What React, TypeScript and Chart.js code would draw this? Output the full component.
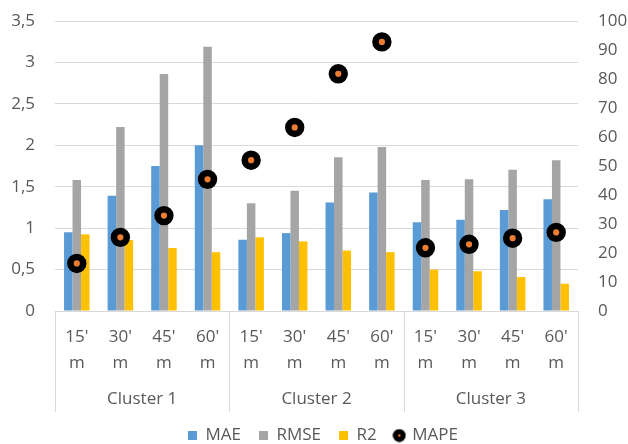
import React, { useEffect, useRef } from "react";
import { Chart, registerables } from "chart.js";

Chart.register(...registerables);

const horizons = ["15'", "30'", "45'", "60'"];
const clusters = ["Cluster 1", "Cluster 2", "Cluster 3"];
const maeValues = [0.95, 1.39, 1.75, 2.0, 0.86, 0.94, 1.31, 1.43, 1.07, 1.1, 1.22, 1.35];
const rmseValues = [1.58, 2.22, 2.86, 3.19, 1.3, 1.45, 1.855, 1.98, 1.58, 1.59, 1.705, 1.82];
const r2Values = [0.925, 0.857, 0.76, 0.71, 0.89, 0.84, 0.73, 0.71, 0.5, 0.48, 0.41, 0.33];
const mapeValues = [16.4, 25.4, 32.9, 45.4, 52.0, 63.3, 81.8, 92.8, 21.8, 23.0, 25.1, 27.1];
const leftTickLabels = ["0", "0,5", "1", "1,5", "2", "2,5", "3", "3,5"];

const FONT = "'Open Sans', sans-serif";
const TEXT = "#595959";
const GRID = "#D9D9D9";
const CLEAR = "rgba(0,0,0,0)";

const clusterPlugin = {
  id: "clusterAxis",
  afterDraw(chart: any) {
    const xs = chart.scales.x;
    const ctx = chart.ctx;
    const step = xs.getPixelForValue(1) - xs.getPixelForValue(0);
    const per = horizons.length;
    ctx.save();
    ctx.strokeStyle = GRID;
    ctx.lineWidth = 1;
    for (let c = 0; c <= clusters.length; c++) {
      const px = Math.round(xs.getPixelForValue(c * per) - step / 2) + 0.5;
      ctx.beginPath();
      ctx.moveTo(px, xs.top);
      ctx.lineTo(px, xs.top + 101);
      ctx.stroke();
    }
    ctx.fillStyle = TEXT;
    ctx.font = `17px ${FONT}`;
    ctx.textAlign = "center";
    ctx.textBaseline = "middle";
    clusters.forEach((name, c) => {
      const cx = (xs.getPixelForValue(c * per) + xs.getPixelForValue(c * per + per - 1)) / 2;
      ctx.fillText(name, cx, xs.top + 88);
    });
    ctx.restore();
  },
};

function makeMapeIcon() {
  const cv = document.createElement("canvas");
  cv.width = 14;
  cv.height = 14;
  const c = cv.getContext("2d")!;
  c.fillStyle = "#000";
  c.beginPath();
  c.arc(7, 7, 6.5, 0, Math.PI * 2);
  c.fill();
  c.fillStyle = "#ED7D31";
  c.beginPath();
  c.arc(7, 7, 1.3, 0, Math.PI * 2);
  c.fill();
  return cv;
}

export default function App() {
  const ref = useRef<HTMLCanvasElement | null>(null);

  useEffect(() => {
    if (!ref.current) return;
    const labels = clusters.flatMap(() => horizons.map((h) => [h, "m"]));
    const mapeIcon = makeMapeIcon();
    const barCommon = {
      type: "bar" as const,
      yAxisID: "y",
      pointStyle: "rect",
      order: 1,
      categoryPercentage: 0.585,
      barPercentage: 1,
      borderWidth: 0,
    };
    const chart = new Chart(ref.current, {
      type: "bar",
      data: {
        labels,
        datasets: [
          { ...barCommon, label: "MAE", data: maeValues, backgroundColor: "#5B9BD5" },
          { ...barCommon, label: "RMSE", data: rmseValues, backgroundColor: "#A5A5A5" },
          { ...barCommon, label: "R2", data: r2Values, backgroundColor: "#FFC000" },
          {
            type: "line",
            label: "MAPE",
            data: mapeValues,
            yAxisID: "y1",
            showLine: false,
            order: 0,
            pointStyle: "circle",
            pointRadius: 6.4,
            pointHoverRadius: 6.4,
            pointBorderWidth: 6.6,
            pointBackgroundColor: "#ED7D31",
            pointBorderColor: "#000000",
            backgroundColor: "#000000",
            borderColor: "#000000",
          } as any,
        ],
      },
      options: {
        animation: false,
        responsive: false,
        maintainAspectRatio: false,
        layout: { padding: { left: 0, right: -18, top: 21, bottom: 0 } },
        plugins: {
          tooltip: { enabled: false },
          legend: {
            position: "bottom",
            labels: {
              usePointStyle: true,
              boxWidth: 9,
              boxHeight: 9,
              padding: 18,
              color: TEXT,
              font: { family: FONT, size: 17 },
              sort: (a: any, b: any) => a.datasetIndex - b.datasetIndex,
              generateLabels(ch: any) {
                const items = (Chart.defaults.plugins.legend.labels as any).generateLabels(ch);
                items.forEach((it: any) => {
                  if (it.text === "MAPE") it.pointStyle = mapeIcon;
                });
                return items;
              },
            },
          },
        },
        scales: {
          x: {
            type: "category",
            grid: { display: false, drawTicks: false },
            border: { display: true, color: GRID },
            ticks: {
              color: TEXT,
              font: { family: FONT, size: 17, lineHeight: 1.53 },
              padding: 13,
              maxRotation: 0,
              autoSkip: false,
            },
            afterFit(s: any) {
              s.height = 98;
            },
          },
          y: {
            position: "left",
            min: 0,
            max: 3.5,
            grid: { color: GRID, drawTicks: true, tickLength: 20, tickColor: CLEAR },
            border: { display: false },
            ticks: {
              stepSize: 0.5,
              padding: 0,
              color: TEXT,
              font: { family: FONT, size: 17 },
              callback: (v: any) => leftTickLabels[Math.round(Number(v) * 2)],
            },
            afterFit(s: any) {
              s.width = 55;
            },
          },
          y1: {
            position: "right",
            min: 0,
            max: 100,
            grid: { display: true, drawOnChartArea: false, drawTicks: true, tickLength: 20, tickColor: CLEAR },
            border: { display: false },
            ticks: {
              stepSize: 10,
              padding: 0,
              color: TEXT,
              font: { family: FONT, size: 17 },
            },
            afterFit(s: any) {
              s.width = 68;
            },
          },
        },
      } as any,
      plugins: [clusterPlugin],
    });
    return () => chart.destroy();
  }, []);

  return (
    <div style={{ position: "absolute", left: 0, top: 0, width: 628, height: 444, overflow: "hidden", background: "#fff" }}>
      <canvas ref={ref} width={628} height={454} style={{ display: "block" }} />
    </div>
  );
}
